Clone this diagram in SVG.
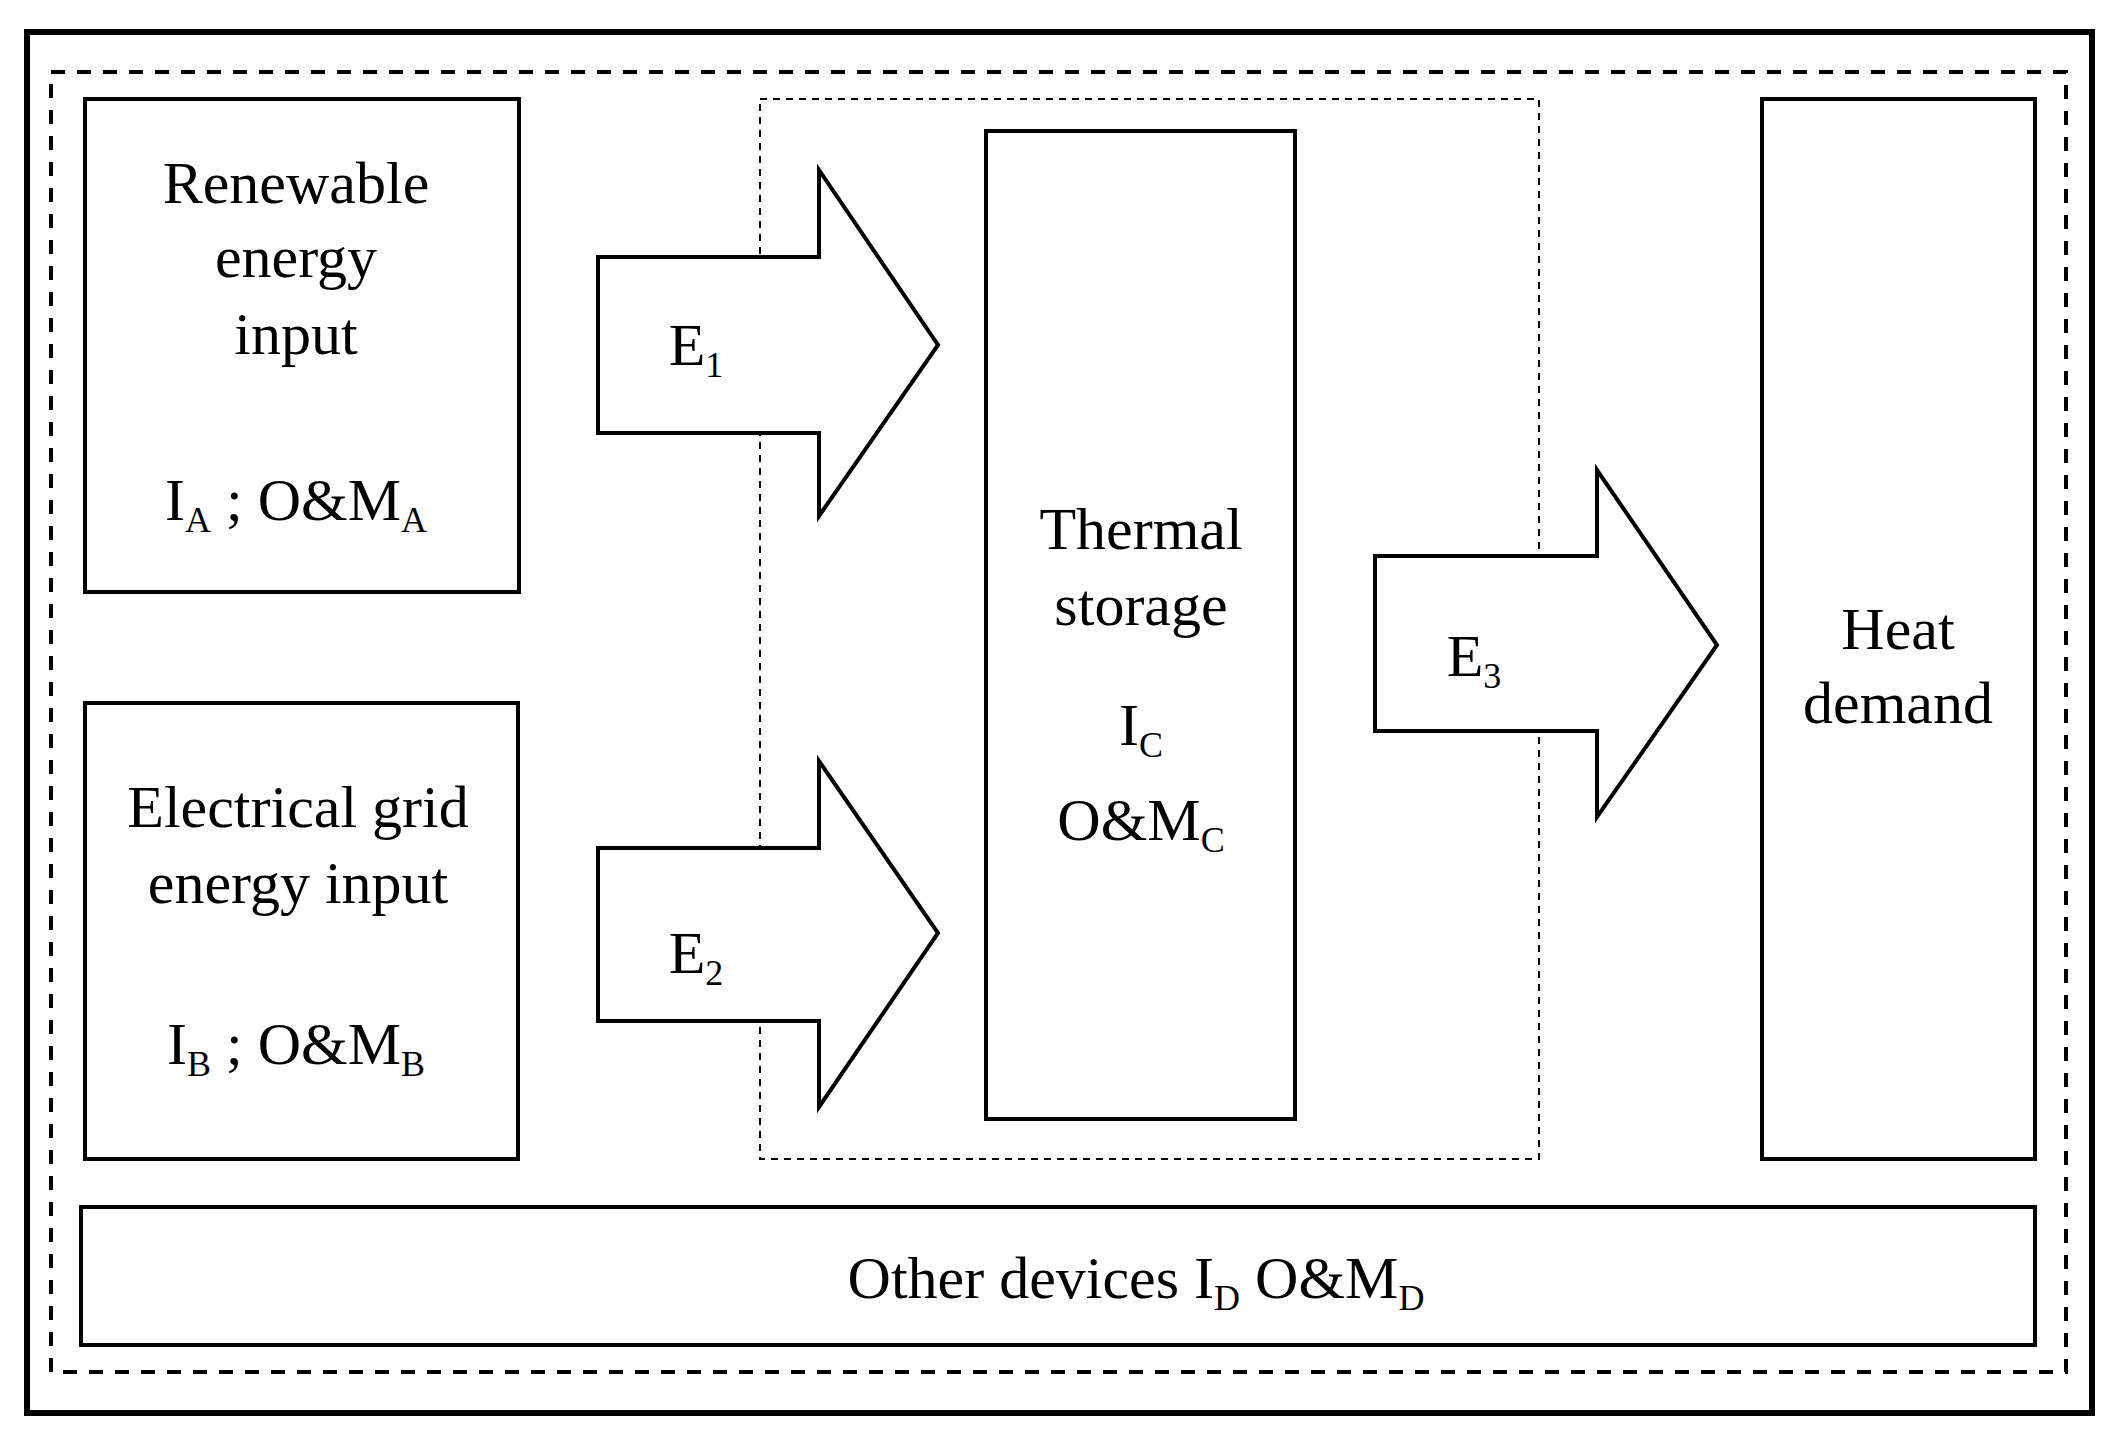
<svg xmlns="http://www.w3.org/2000/svg" width="2120" height="1446" viewBox="0 0 2120 1446">
<style>
.box{fill:#fff;stroke:#000;stroke-width:4}
.arr{fill:#fff;stroke:#000;stroke-width:4;stroke-linejoin:miter}
text{font-family:"Liberation Serif","Times New Roman",serif;font-size:60px;fill:#000;text-anchor:middle}
.s{font-size:36px}
</style>
<rect width="2120" height="1446" fill="#fff"/>
<rect x="27" y="32" width="2065" height="1381" fill="none" stroke="#000" stroke-width="6"/>
<rect x="51" y="72" width="2015" height="1300" fill="none" stroke="#000" stroke-width="4" stroke-dasharray="14,12"/>
<rect x="760" y="99" width="779" height="1060" fill="none" stroke="#000" stroke-width="2" stroke-dasharray="7,6"/>
<g id="nodeA"><rect class="box" x="85" y="99" width="434" height="493"/>
<text x="296" y="203">Renewable</text><text x="296" y="277">energy</text><text x="296" y="354">input</text>
<text x="296" y="520">I<tspan class="s" dy="12">A</tspan><tspan dy="-12"> ; O&amp;M</tspan><tspan class="s" dy="12">A</tspan></text></g>
<g id="nodeB"><rect class="box" x="85" y="703" width="433" height="456"/>
<text x="298" y="827">Electrical grid</text><text x="298" y="903">energy input</text>
<text x="296" y="1064">I<tspan class="s" dy="12">B</tspan><tspan dy="-12"> ; O&amp;M</tspan><tspan class="s" dy="12">B</tspan></text></g>
<g id="nodeC"><rect class="box" x="986" y="131" width="309" height="988"/>
<text x="1141" y="549">Thermal</text><text x="1141" y="625">storage</text>
<text x="1141" y="745">I<tspan class="s" dy="12">C</tspan></text>
<text x="1141" y="840">O&amp;M<tspan class="s" dy="12">C</tspan></text></g>
<g id="nodeH"><rect class="box" x="1762" y="99" width="273" height="1060"/>
<text x="1898" y="649">Heat</text><text x="1898" y="723">demand</text></g>
<g id="nodeD"><rect class="box" x="81" y="1207" width="1954" height="138"/>
<text x="1136" y="1298">Other devices  I<tspan class="s" dy="12">D</tspan><tspan dy="-12"> O&amp;M</tspan><tspan class="s" dy="12">D</tspan></text></g>
<g id="connectors">
<polygon class="arr" points="598,257 819,257 819,170 938,345 819,516 819,433 598,433"/>
<polygon class="arr" points="598,848 819,848 819,761 938,933 819,1107 819,1021 598,1021"/>
<polygon class="arr" points="1375,556 1597,556 1597,470 1717,645 1597,817 1597,731 1375,731"/>
<text x="696" y="365">E<tspan class="s" dy="12">1</tspan></text>
<text x="696" y="973">E<tspan class="s" dy="12">2</tspan></text>
<text x="1474" y="676">E<tspan class="s" dy="12">3</tspan></text>
</g>
</svg>
